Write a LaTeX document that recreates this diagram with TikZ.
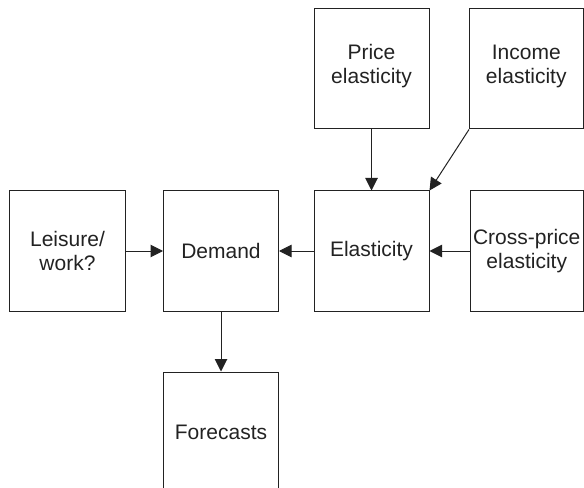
\documentclass[tikz,border=0pt]{standalone}
\usepackage{fontspec}
\setmainfont{Liberation Sans}
\usetikzlibrary{arrows.meta}
\definecolor{ink}{HTML}{222222}
\begin{document}
\begin{tikzpicture}[x=1bp,y=-1bp,
  box/.style={draw=ink, line width=1bp, minimum width=115bp, minimum height=120bp,
    inner sep=0pt, align=center, text=ink, font=\fontsize{21bp}{24bp}\selectfont},
  narrowbox/.style={box, minimum width=113.5bp},
  conn/.style={draw=ink, line width=1bp, -{Triangle[length=12.5bp,width=12.5bp]}}]
\clip (0,0) rectangle (584,488);
\useasboundingbox (0,0) rectangle (584,488);
\node[box] (lei) at (67.5,251) {Leisure/\\work?};
\node[box] (dem) at (221,251) {Demand};
\node[box] (ela) at (371.5,251) {Elasticity};
\node[narrowbox] (cro) at (526.75,251) {Cross-price\\elasticity};
\node[box, text depth=10bp] (pri) at (371.5,69) {Price\\elasticity};
\node[narrowbox, text depth=10bp] (inc) at (526.25,69) {Income\\elasticity};
\node[box] (for) at (221,432) {Forecasts};
\draw[conn] (lei.east) -- (dem.west);
\draw[conn] (ela.west) -- (dem.east);
\draw[conn] (cro.west) -- (ela.east);
\draw[conn] (pri.south) -- (ela.north);
\draw[conn] (inc.south west) -- (ela.north east);
\draw[conn] (dem.south) -- (for.north);
\end{tikzpicture}
\end{document}
